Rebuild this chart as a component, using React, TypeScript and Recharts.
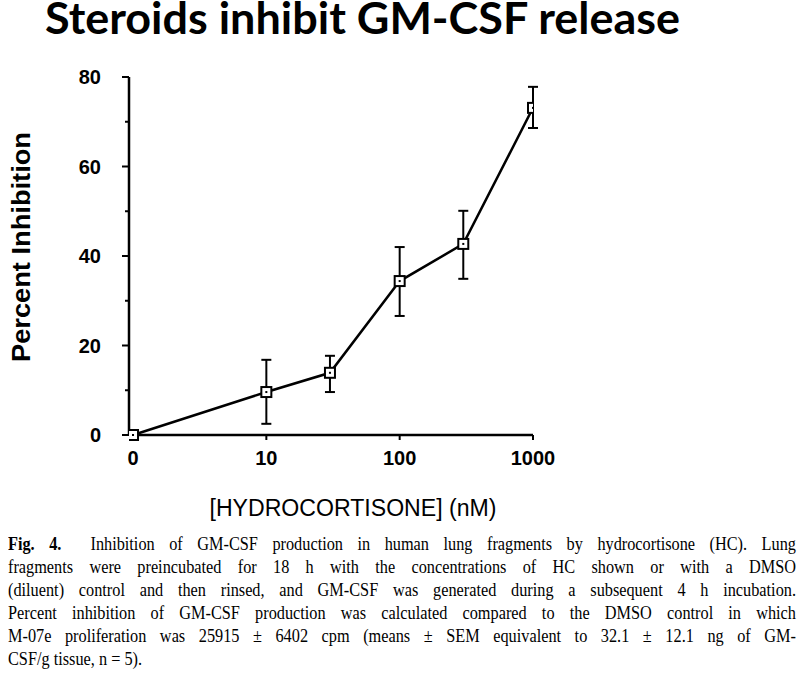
import React from 'react';
import { LineChart, Line, XAxis, YAxis, ErrorBar } from 'recharts';

// hydrocortisone concentration (nM); 0 = DMSO control, drawn at the axis origin
const concentrations = [0, 10, 30, 100, 300, 1000];
const inhibition = [0, 9.6, 13.9, 34.4, 42.7, 73.1];
const errorHigh = [0, 16.8, 17.7, 42.0, 50.1, 77.8];
const errorLow = [0, 2.5, 9.6, 26.6, 34.9, 68.6];

const xTicks = [1, 10, 100, 1000];
const yTicks = [0, 10, 20, 30, 40, 50, 60, 70, 80];

const captionLines = [
  'Inhibition of GM-CSF production in human lung fragments by hydrocortisone (HC). Lung',
  'fragments were preincubated for 18 h with the concentrations of HC shown or with a DMSO',
  '(diluent) control and then rinsed, and GM-CSF was generated during a subsequent 4 h incubation.',
  'Percent inhibition of GM-CSF production was calculated compared to the DMSO control in which',
  'M-07e proliferation was 25915 \u00b1 6402 cpm (means \u00b1 SEM equivalent to 32.1 \u00b1 12.1 ng of GM-',
  'CSF/g tissue, n = 5).',
];

const data = concentrations.map((c, i) => ({
  x: c === 0 ? 1 : c,
  y: inhibition[i],
  err: [inhibition[i] - errorLow[i], errorHigh[i] - inhibition[i]],
}));

const sans = '"Liberation Sans", Arial, sans-serif';
const captionScale = 0.88;

const SquareDot = (props: any) => {
  const { cx, cy } = props;
  if (cx == null || cy == null) return null;
  return (
    <g>
      <rect x={cx - 5} y={cy - 5} width={10} height={10} fill="#fff" stroke="#000" strokeWidth={2} />
      <rect x={cx - 1} y={cy - 1} width={2} height={2} fill="#000" />
    </g>
  );
};

const YTick = (props: any) => {
  const { x, y, payload } = props;
  const major = payload.value % 20 === 0;
  return (
    <g>
      <line x1={x - (major ? 7 : 4)} y1={y} x2={x} y2={y} stroke="#000" strokeWidth={2} />
      {major && (
        <text x={x - 28} y={y + 7} textAnchor="end" fontFamily={sans} fontWeight="bold" fontSize={20} fill="#000">
          {payload.value}
        </text>
      )}
    </g>
  );
};

const YLabel = () => (
  <text
    x={30}
    y={247}
    transform="rotate(-90 30 247)"
    textAnchor="middle"
    fontFamily={sans}
    fontWeight="bold"
    fontSize={26}
    textLength={230}
    lengthAdjust="spacingAndGlyphs"
    fill="#000"
  >
    Percent Inhibition
  </text>
);

const XLabel = () => (
  <text
    x={353}
    y={516}
    textAnchor="middle"
    fontFamily={sans}
    fontSize={23}
    textLength={287}
    lengthAdjust="spacingAndGlyphs"
    fill="#000"
  >
    [HYDROCORTISONE] (nM)
  </text>
);

export default function App() {
  return (
    <div style={{ position: 'absolute', left: 0, top: 0, width: 803, height: 676, background: '#fff', overflow: 'hidden' }}>
      <div
        style={{
          position: 'absolute',
          left: 45,
          top: 1,
          fontFamily: 'Lato, "Open Sans", sans-serif',
          fontWeight: 'bold',
          fontSize: 43,
          lineHeight: '34px',
          whiteSpace: 'nowrap',
          transform: 'scaleX(1.045)',
          transformOrigin: 'left top',
          color: '#000',
        }}
      >
        Steroids inhibit GM-CSF release
      </div>

      <div style={{ position: 'absolute', left: 0, top: 0 }}>
        <LineChart width={803} height={530} data={data} margin={{ top: 77, right: 270, bottom: 55, left: 69 }}>
          <XAxis
            dataKey="x"
            type="number"
            scale="log"
            domain={[0.933, 1000]}
            allowDataOverflow
            ticks={xTicks}
            tickFormatter={(v: number) => (v === 1 ? '0' : String(v))}
            axisLine={{ stroke: '#000', strokeWidth: 2.5 }}
            tickLine={{ stroke: '#000', strokeWidth: 2 }}
            tickSize={5}
            tickMargin={11}
            tick={{ fill: '#000', fontSize: 20, fontWeight: 'bold', fontFamily: sans }}
            height={40}
            label={<XLabel />}
          />
          <YAxis
            type="number"
            domain={[0, 80]}
            ticks={yTicks}
            interval={0}
            axisLine={{ stroke: '#000', strokeWidth: 2.5 }}
            tickLine={false}
            tickSize={0}
            tickMargin={0}
            tick={<YTick />}
            width={60}
            label={<YLabel />}
          />
          <Line
            dataKey="y"
            stroke="#000"
            strokeWidth={2.5}
            dot={<SquareDot />}
            activeDot={false}
            isAnimationActive={false}
          >
            <ErrorBar dataKey="err" direction="y" width={5} stroke="#000" strokeWidth={2} isAnimationActive={false} />
          </Line>
        </LineChart>
      </div>

      <div
        style={{
          position: 'absolute',
          left: 8,
          top: 533,
          width: 788 / captionScale,
          transform: `scaleX(${captionScale})`,
          transformOrigin: 'left top',
          fontFamily: '"Liberation Serif", "Times New Roman", serif',
          fontSize: 18.5,
          lineHeight: '23px',
          color: '#000',
        }}
      >
        {captionLines.map((line, i) => (
          <div
            key={i}
            style={{
              textAlign: 'justify',
              textAlignLast: i < captionLines.length - 1 ? 'justify' : 'left',
              whiteSpace: 'nowrap',
            }}
          >
            {i === 0 && <b>Fig. 4.&nbsp;&nbsp;</b>}
            {line}
          </div>
        ))}
      </div>
    </div>
  );
}
